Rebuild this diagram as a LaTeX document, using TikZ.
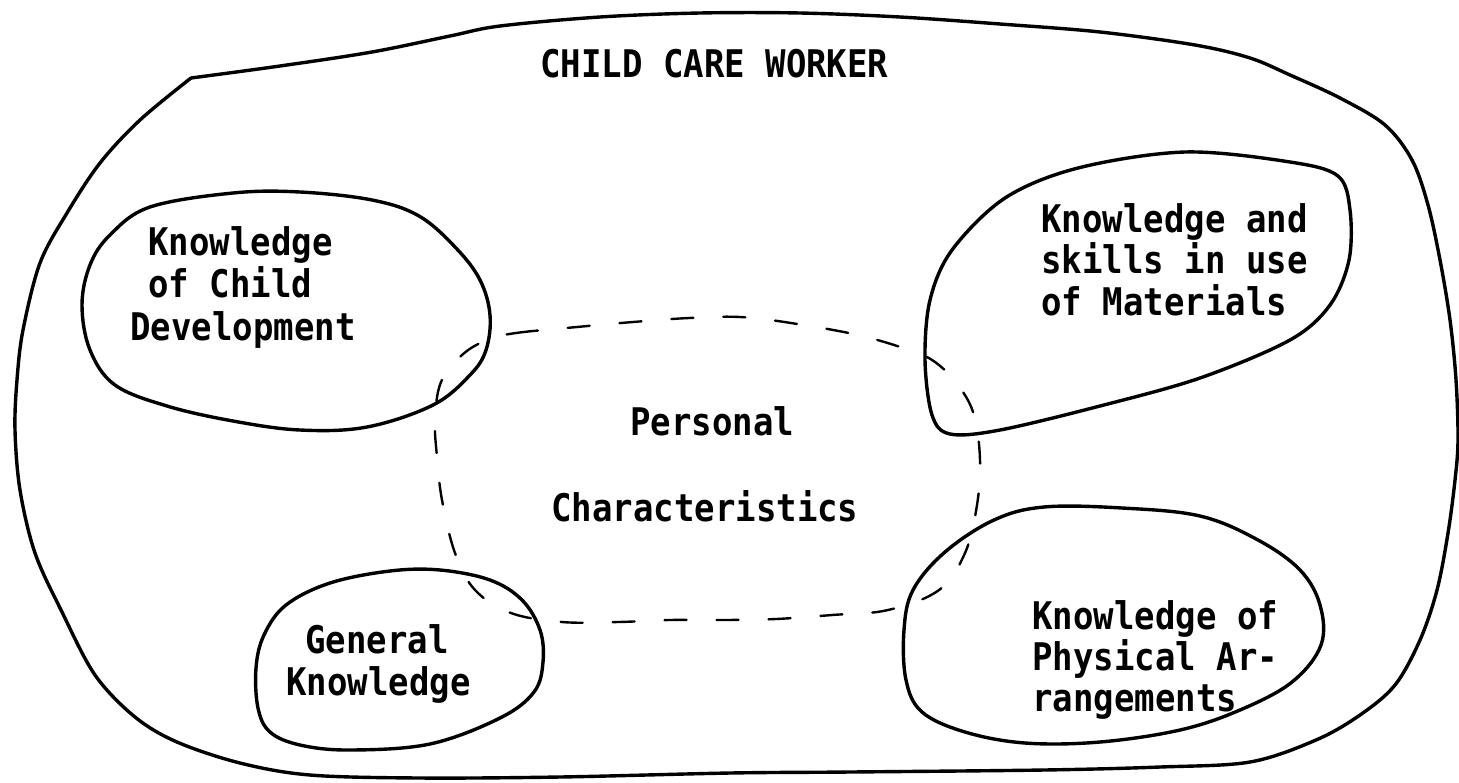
\documentclass[tikz,border=0pt]{standalone}
\usepackage{graphicx}
\usepackage{fontspec}
\newfontfamily\typewriter{DejaVu Sans Mono}
% one typed line, slightly taller than the stock face
\newcommand\tallline[1]{\hbox{\scalebox{1}[1.12]{#1}}}
\begin{document}
\begin{tikzpicture}[x=0.5pt,y=-0.5pt,
  blob/.style={draw=black, line width=1.7pt, line join=round, line cap=round},
  overlap/.style={draw=black, line width=1.2pt, line cap=round,
                  dash pattern=on 11pt off 15pt},
  typed/.style={inner sep=0pt, anchor=base west,
                font=\typewriter\bfseries\fontsize{17}{20}\selectfont}]
\useasboundingbox (0,0) rectangle (1459,782);
\fill[white] (0,0) rectangle (1459,782);

% outer boundary: the child care worker
\draw[blob] plot[smooth, tension=0.55] coordinates {
  (191,78) (280,66) (372,52) (450,36) (500,26) (600,17) (700,13) (800,13)
  (900,17) (1000,24) (1100,32) (1195,45) (1250,58) (1290,75) (1340,98)
  (1385,125) (1412,160) (1428,205) (1440,260) (1450,320) (1456,380)
  (1458,440) (1455,480) (1448,533) (1437,590) (1420,640) (1395,685)
  (1360,715) (1316,740) (1250,762) (1160,767) (1044,770) (850,772)
  (730,773) (560,777) (420,778) (310,775) (240,763) (177,742) (135,717)
  (95,675) (62,612) (35,553) (20,490) (15,430) (17,380) (23,330) (40,263)
  (67,213) (100,163) (140,120) (191,78)};

% knowledge of child development
\draw[blob] plot[smooth cycle, tension=0.6] coordinates {
  (233,193) (300,192) (372,200) (419,216) (456,248) (480,280) (490,315)
  (486,350) (470,375) (433,405) (367,427) (300,430) (233,421) (167,406)
  (115,385) (90,350) (82,305) (90,265) (110,235) (150,207)};

% knowledge and skills in use of materials
\draw[blob] plot[smooth cycle, tension=0.55] coordinates {
  (1185,152) (1290,162) (1338,176) (1350,210) (1349,260) (1330,305)
  (1290,340) (1200,378) (1100,406) (1000,430) (950,434) (932,415)
  (925,360) (930,300) (952,250) (1005,198) (1078,168)};

% general knowledge
\draw[blob] plot[smooth cycle, tension=0.6] coordinates {
  (440,570) (490,580) (522,600) (540,630) (543,662) (534,692) (500,718)
  (430,744) (350,750) (300,745) (270,732) (258,708) (256,668) (264,635)
  (286,605) (330,583) (390,571)};

% knowledge of physical arrangements
\draw[blob] plot[smooth cycle, tension=0.6] coordinates {
  (1044,507) (1122,508) (1200,516) (1258,540) (1300,570) (1320,605)
  (1321,645) (1292,682) (1240,710) (1180,730) (1100,742) (1025,743)
  (965,732) (922,712) (906,680) (904,630) (913,590) (945,552) (994,520)};

% personal characteristics, overlapping the four areas
\draw[overlap] plot[smooth cycle, tension=0.6] coordinates {
  (487,340) (516,333) (577,327) (633,322) (689,318) (740,317) (791,323)
  (858,335) (909,350) (935,362) (958,385) (974,415) (980,460) (977,505)
  (965,553) (939,590) (888,610) (832,615) (776,619) (725,620) (669,620)
  (618,622) (562,622) (511,613) (475,590) (455,553) (442,500) (437,457)
  (435,420) (441,382) (462,355)};

% labels
\node[typed] (title) at (540,77) {\tallline{CHILD CARE WORKER}};
\node[typed] (childdev) at (130,255) {\vtop{\baselineskip=21.25pt
  \tallline{\hskip9pt Knowledge}\tallline{\hskip9pt of Child}\tallline{Development}}};
\node[typed] (materials) at (1041,232) {\vtop{\baselineskip=20.75pt
  \tallline{Knowledge and}\tallline{skills in use}\tallline{of Materials}}};
\node[typed] (personal) at (630,435) {\tallline{Personal}};
\node[typed] (characteristics) at (551,521) {\tallline{Characteristics}};
\node[typed] (general) at (286,653) {\vtop{\baselineskip=21pt
  \tallline{\hskip9.5pt General}\tallline{Knowledge}}};
\node[typed] (physical) at (1032,629) {\vtop{\baselineskip=20.5pt
  \tallline{Knowledge of}\tallline{Physical Ar-}\tallline{rangements}}};
\end{tikzpicture}
\end{document}
